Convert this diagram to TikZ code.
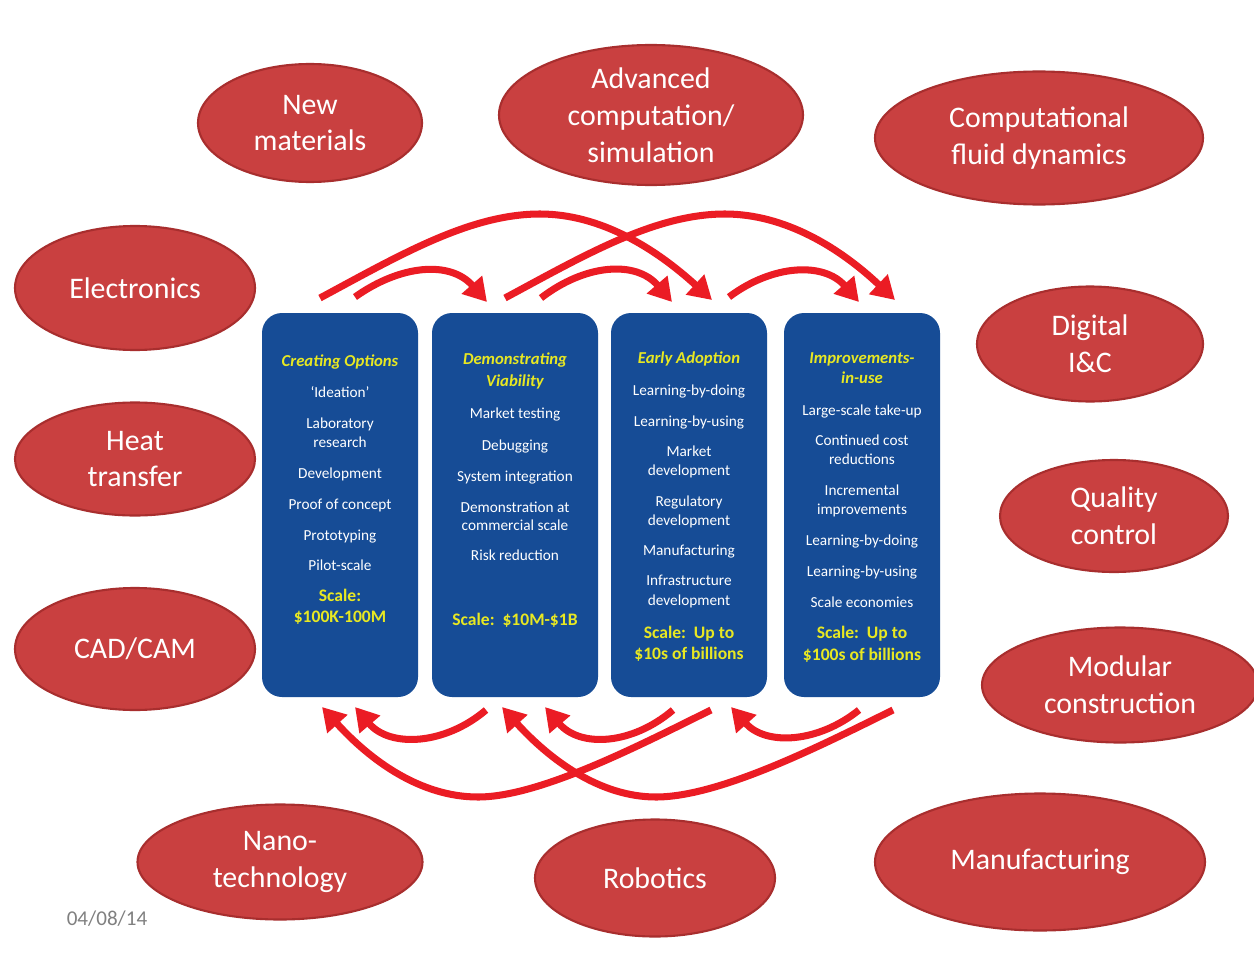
\documentclass[tikz,border=0pt]{standalone}
\usepackage{fontspec}
\setmainfont{Carlito}
\usetikzlibrary{shapes.geometric,arrows.meta}

\definecolor{techred}{RGB}{201,64,64}
\definecolor{techrim}{RGB}{168,46,46}
\definecolor{stageblue}{RGB}{22,76,150}
\definecolor{stageyellow}{RGB}{232,232,34}
\definecolor{flowred}{RGB}{235,28,36}

\tikzset{
  tech/.style 2 args={ellipse, fill=techred, draw=techrim, line width=1.2pt,
    minimum width=#1*0.02cm, minimum height=#2*0.02cm, inner sep=0pt,
    text=white, align=center, font=\fontsize{17}{21}\selectfont},
  stagebox/.style={rectangle, rounded corners=0.4cm, fill=stageblue,
    minimum width=156*0.02cm, minimum height=384*0.02cm, inner sep=0pt},
  item/.style={text=white, font=\fontsize{8.7}{10.5}\selectfont,
    inner sep=0pt, text height=0.72em, text depth=0.22em},
  stagetitle/.style={text=stageyellow, font=\fontsize{9.5}{11}\selectfont\bfseries\itshape,
    inner sep=0pt, text height=0.72em, text depth=0.22em},
  scaletxt/.style={text=stageyellow, font=\fontsize{10}{12}\selectfont\bfseries,
    inner sep=0pt, text height=0.72em, text depth=0.22em},
  flow/.style={draw=flowred, line width=4pt,
    -{Triangle[length=0.46cm,width=0.52cm]}},
}

\begin{document}
\begin{tikzpicture}[x=0.02cm,y=-0.02cm]
\useasboundingbox (0,0) rectangle (1254,963);
\fill[white] (0,0) rectangle (1254,963);

% technologies around the pipeline
\node[tech={224}{118}] (newmat) at (310,123) {New\\materials};
\node[tech={304}{140}] (advcomp) at (651,115) {Advanced\\computation/\\simulation};
\node[tech={328}{133}] (cfd) at (1039,138) {Computational\\fluid dynamics};
\node[tech={240}{124}] (electr) at (135,288) {Electronics};
\node[tech={226}{115}] (digic) at (1090,344) {Digital\\I\&C};
\node[tech={240}{113}] (heat) at (135,459) {Heat\\transfer};
\node[tech={228}{112}] (qc) at (1114,516) {Quality\\control};
\node[tech={240}{122}] (cadcam) at (135,649) {CAD/CAM};
\node[tech={276}{115}] (modular) at (1120,685) {Modular\\construction};
\node[tech={285}{115}] (nano) at (280,862) {Nano-\\technology};
\node[tech={240}{117}] (robot) at (655,878) {Robotics};
\node[tech={330}{137}] (manuf) at (1040,862) {Manufacturing};

% innovation stages
\node[stagebox] (st1) at (340,505) {};
\node[stagebox, minimum width=166*0.02cm] (st2) at (515,505) {};
\node[stagebox] (st3) at (689,505) {};
\node[stagebox] (st4) at (862,505) {};

% stage 1
\node[stagetitle] (s1t) at (340,362) {Creating Options};
\foreach \yy/\tx [count=\i] in {393/{‘Ideation’}, 424/Laboratory, 443/research,
    474/Development, 505/Proof of concept, 536/Prototyping, 566/Pilot-scale}
  \node[item] (s1l\i) at (340,\yy) {\tx};
\node[scaletxt] (s1s) at (340,597) {Scale:};
\node[scaletxt] (s1v) at (340,618) {\$100K-100M};

% stage 2
\node[stagetitle] (s2t) at (515,360) {Demonstrating};
\node[stagetitle] (s2u) at (515,382) {Viability};
\foreach \yy/\tx [count=\i] in {414/Market testing, 446/Debugging,
    477/System integration, 508/Demonstration at, 526/commercial scale,
    556/Risk reduction}
  \node[item] (s2l\i) at (515,\yy) {\tx};
\node[scaletxt] (s2s) at (515,621) {Scale:\ \ \$10M-\$1B};

% stage 3
\node[stagetitle] (s3t) at (689,359) {Early Adoption};
\foreach \yy/\tx [count=\i] in {391/Learning-by-doing, 422/Learning-by-using,
    452/Market, 471/development, 502/Regulatory, 521/development,
    551/Manufacturing, 581/Infrastructure, 601/development}
  \node[item] (s3l\i) at (689,\yy) {\tx};
\node[scaletxt] (s3s) at (689,634) {Scale:\ \ Up to};
\node[scaletxt] (s3v) at (689,655) {\$10s of billions};

% stage 4
\node[stagetitle] (s4t) at (862,359) {Improvements-};
\node[stagetitle] (s4u) at (862,379) {in-use};
\foreach \yy/\tx [count=\i] in {411/Large-scale take-up, 441/Continued cost,
    460/reductions, 491/Incremental, 510/improvements, 541/Learning-by-doing,
    572/Learning-by-using, 603/Scale economies}
  \node[item] (s4l\i) at (862,\yy) {\tx};
\node[scaletxt] (s4s) at (862,634) {Scale:\ \ Up to};
\node[scaletxt] (s4v) at (862,656) {\$100s of billions};

% arrow end points above the stages
\coordinate (fa-s) at (320,298);  \coordinate (fa-e) at (712,300);
\coordinate (fb-s) at (505,298);  \coordinate (fb-e) at (895,300);
\coordinate (f12-s) at (355,297); \coordinate (f12-e) at (487,302);
\coordinate (f23-s) at (541,298); \coordinate (f23-e) at (672,302);
\coordinate (f34-s) at (729,297); \coordinate (f34-e) at (859,302);
% arrow end points below the stages
\coordinate (r21-s) at (486,710); \coordinate (r21-e) at (355,707);
\coordinate (r32-s) at (673,710); \coordinate (r32-e) at (545,707);
\coordinate (r43-s) at (859,710); \coordinate (r43-e) at (731,707);
\coordinate (rc-s) at (711,710);  \coordinate (rc-e) at (322,707);
\coordinate (rd-s) at (893,710);  \coordinate (rd-e) at (502,707);

% forward flows
\draw[flow] (fa-s) .. controls (400,255) and (470,214) .. (540,214)
  .. controls (600,214) and (655,248) .. (fa-e);
\draw[flow] (fb-s) .. controls (585,255) and (655,214) .. (725,214)
  .. controls (785,214) and (840,248) .. (fb-e);
\draw[flow] (f12-s) .. controls (400,265) and (450,260) .. (f12-e);
\draw[flow] (f23-s) .. controls (585,264) and (636,260) .. (f23-e);
\draw[flow] (f34-s) .. controls (773,264) and (824,262) .. (f34-e);

% feedback flows
\draw[flow] (r21-s) .. controls (445,745) and (390,748) .. (r21-e);
\draw[flow] (r32-s) .. controls (632,745) and (580,748) .. (r32-e);
\draw[flow] (r43-s) .. controls (818,743) and (766,746) .. (r43-e);
\draw[flow] (rc-s) .. controls (640,745) and (540,797) .. (478,797)
  .. controls (420,797) and (370,760) .. (rc-e);
\draw[flow] (rd-s) .. controls (822,745) and (720,797) .. (656,797)
  .. controls (600,797) and (550,760) .. (rd-e);

% date
\node[text=black!50, font=\fontsize{12}{14}\selectfont, inner sep=0pt] (date) at (107,919) {04/08/14};
\end{tikzpicture}
\end{document}
